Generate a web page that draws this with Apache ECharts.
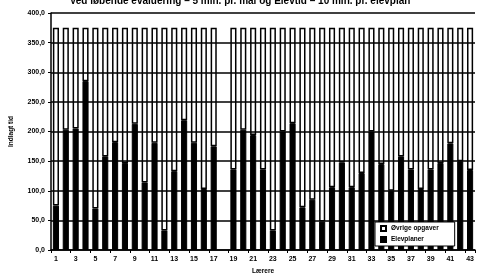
<!DOCTYPE html>
<html>
<head>
<meta charset="utf-8">
<script src="https://cdn.jsdelivr.net/npm/echarts@6/dist/echarts.min.js"></script>
<style>
  html, body { margin: 0; padding: 0; background: #fff; }
  #chart { width: 480px; height: 280px; }
</style>
</head>
<body>
<div id="chart"></div>
<script>
// laerer 1..43 (18 er tom)
const teachers = ['1','2','3','4','5','6','7','8','9','10','11','12','13','14','15','16','17','18','19','20','21','22',
  '23','24','25','26','27','28','29','30','31','32','33','34','35','36','37','38','39','40','41','42','43'];
const elevplaner = [75, 203, 205, 285, 70, 158, 182, 147, 213, 114, 181, 33, 133, 219, 181, 103, 175, null,
  136, 203, 194, 136, 33, 200, 214, 72, 85, 48, 106, 148, 106, 130, 200, 145, 100, 158, 136, 103, 136, 147, 180, 150, 135];
const oevrige = [300, 172, 170, 90, 305, 217, 193, 228, 162, 261, 194, 342, 242, 156, 194, 272, 200, null,
  239, 172, 181, 239, 342, 175, 161, 303, 290, 327, 269, 227, 269, 245, 175, 230, 275, 217, 239, 272, 239, 228, 195, 225, 240];
const titleText = 'Ved løbende evaluering – 5 min. pr. mål og Elevtid – 10 min. pr. elevplan';

const chart = echarts.init(document.getElementById('chart'));
chart.setOption({
  animation: false,
  textStyle: { fontFamily: 'Liberation Sans', color: '#000' },
  title: {
    text: titleText,
    left: 'center',
    top: -9,
    textStyle: { fontSize: 10, fontWeight: 'bold', color: '#000' },
  },
  legend: {
    data: ['Øvrige opgaver', 'Elevplaner'],
    orient: 'vertical',
    left: 375,
    top: 222,
    icon: 'rect',
    itemWidth: 5,
    itemHeight: 5,
    itemGap: 4,
    padding: [3, 16, 3, 5],
    backgroundColor: '#fff',
    borderColor: '#000',
    borderWidth: 1,
    textStyle: { fontSize: 6.5, fontWeight: 'bold', color: '#000' },
  },
  grid: { left: 45, right: 5, top: 13, bottom: 25 },
  xAxis: {
    type: 'category',
    data: teachers,
    name: 'Lærere',
    nameLocation: 'middle',
    nameGap: 18,
    nameTextStyle: { fontSize: 6.5, fontWeight: 'bold', color: '#000' },
    axisLine: { lineStyle: { color: '#000', width: 1.5 } },
    axisTick: { show: true, length: 3, lineStyle: { color: '#000' } },
    axisLabel: { interval: 1, fontSize: 7, fontWeight: 'bold', color: '#000', margin: 6 },
  },
  yAxis: {
    type: 'value',
    min: 0,
    max: 400,
    interval: 50,
    name: 'Indlagt tid',
    nameLocation: 'middle',
    nameGap: 36,
    nameTextStyle: { fontSize: 6.5, fontWeight: 'bold', color: '#000' },
    axisLine: { show: true, lineStyle: { color: '#000', width: 1.5 } },
    axisTick: { show: true, length: 3, lineStyle: { color: '#000' } },
    axisLabel: {
      fontSize: 7,
      fontWeight: 'bold',
      color: '#000',
      margin: 6,
      formatter: (v) => v.toFixed(1).replace('.', ','),
    },
    splitLine: { lineStyle: { color: '#000', width: 1.5 } },
  },
  series: [
    {
      name: 'Elevplaner',
      type: 'bar',
      stack: 'tid',
      data: elevplaner,
      barWidth: '62%',
      itemStyle: { color: '#000', borderColor: '#000', borderWidth: 1 },
    },
    {
      name: 'Øvrige opgaver',
      type: 'bar',
      stack: 'tid',
      data: oevrige,
      itemStyle: { color: 'rgba(255,255,255,0)', borderColor: '#000', borderWidth: 1.5 },
    },
  ],
});
</script>
</body>
</html>
